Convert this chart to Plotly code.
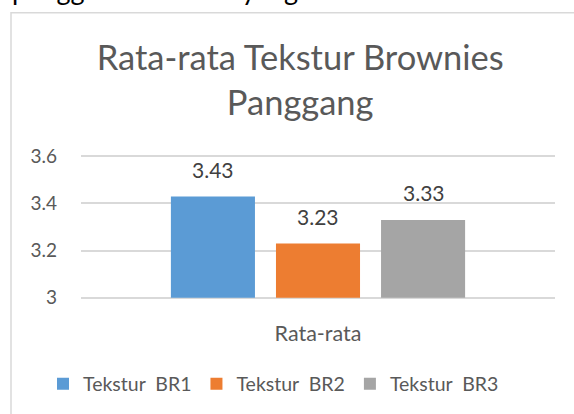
import plotly.graph_objects as go

categories = ["Rata-rata"]
series_names = ["Tekstur  BR1", "Tekstur  BR2", "Tekstur  BR3"]
series_values = [[3.43], [3.23], [3.33]]
series_colors = ["#5B9BD5", "#ED7D31", "#A5A5A5"]
y_ticks = [3, 3.2, 3.4, 3.6]
y_tick_labels = ["3", "3.2", "3.4", "3.6"]

FONT = "Lato, Open Sans, sans-serif"

fig = go.Figure()
for name, vals, col in zip(series_names, series_values, series_colors):
    fig.add_trace(go.Bar(
        x=categories, y=[v - 3 for v in vals], base=3, name=name,
        marker=dict(color=col, line=dict(width=0)),
        cliponaxis=False, hoverinfo="skip",
    ))

W, H = 574, 414
Y0, Y1 = 2.99, 3.61
L, R, T, B = 81, 19, 153.6, 414 - 300.4
pw, ph = W - L - R, H - T - B

def px_to_paper_x(px):
    return (px - L) / pw

def px_to_paper_y(py):
    return (H - B - py) / ph

offsets = [-1, 0, 1]
ann = []
for name, vals, off in zip(series_names, series_values, offsets):
    for cat, v in zip(categories, vals):
        ann.append(dict(x=cat, y=v, xref="x", yref="y", text=f"{v:.2f}", showarrow=False,
                        xshift=off * 105.5, yshift=27, yanchor="middle",
                        font=dict(size=21, color="#404040", family=FONT)))

ann.append(dict(text="penggunaan bahan yang berbeda.", xref="paper", yref="paper",
                x=px_to_paper_x(10), xanchor="left", y=px_to_paper_y(7), yanchor="bottom",
                showarrow=False, font=dict(size=27, color="#000000", family="Lato, Arial")))

fig.update_layout(
    width=W, height=H,
    margin=dict(l=L, r=R, t=T, b=B, autoexpand=False),
    paper_bgcolor="white", plot_bgcolor="white",
    barmode="group", bargap=0.335, bargroupgap=0.2,
    font=dict(family=FONT, color="#595959"),
    title=dict(text="Rata-rata Tekstur Brownies<br>Panggang", x=0.523, xanchor="center",
               y=1 - 70 / H, yanchor="middle",
               font=dict(size=34.5, color="#595959", family=FONT)),
    showlegend=True,
    legend=dict(orientation="h", x=px_to_paper_x(43), xanchor="left", y=px_to_paper_y(385), yanchor="middle",
                font=dict(size=19.5, color="#595959", family=FONT), traceorder="normal",
                itemwidth=30),
    xaxis=dict(showgrid=False, showline=False, ticks="", ticklabelstandoff=18,
               tickfont=dict(size=21.5, color="#595959")),
    yaxis=dict(range=[Y0, Y1], tickvals=y_ticks, ticktext=y_tick_labels,
               showgrid=True, gridcolor="#D9D9D9", gridwidth=1.5, zeroline=False,
               showline=False, ticks="", ticklabelstandoff=23,
               tickfont=dict(size=19, color="#595959")),
    shapes=[dict(type="rect", xref="paper", yref="paper",
                 x0=px_to_paper_x(11), x1=px_to_paper_x(600),
                 y0=px_to_paper_y(440), y1=px_to_paper_y(11.5),
                 line=dict(color="#D9D9D9", width=1.5), fillcolor="rgba(0,0,0,0)", layer="below")],
    annotations=ann,
)

fig.write_html("out.html", config={"displayModeBar": False},
               post_script="document.body.style.margin='0';document.body.style.overflow='hidden';")
